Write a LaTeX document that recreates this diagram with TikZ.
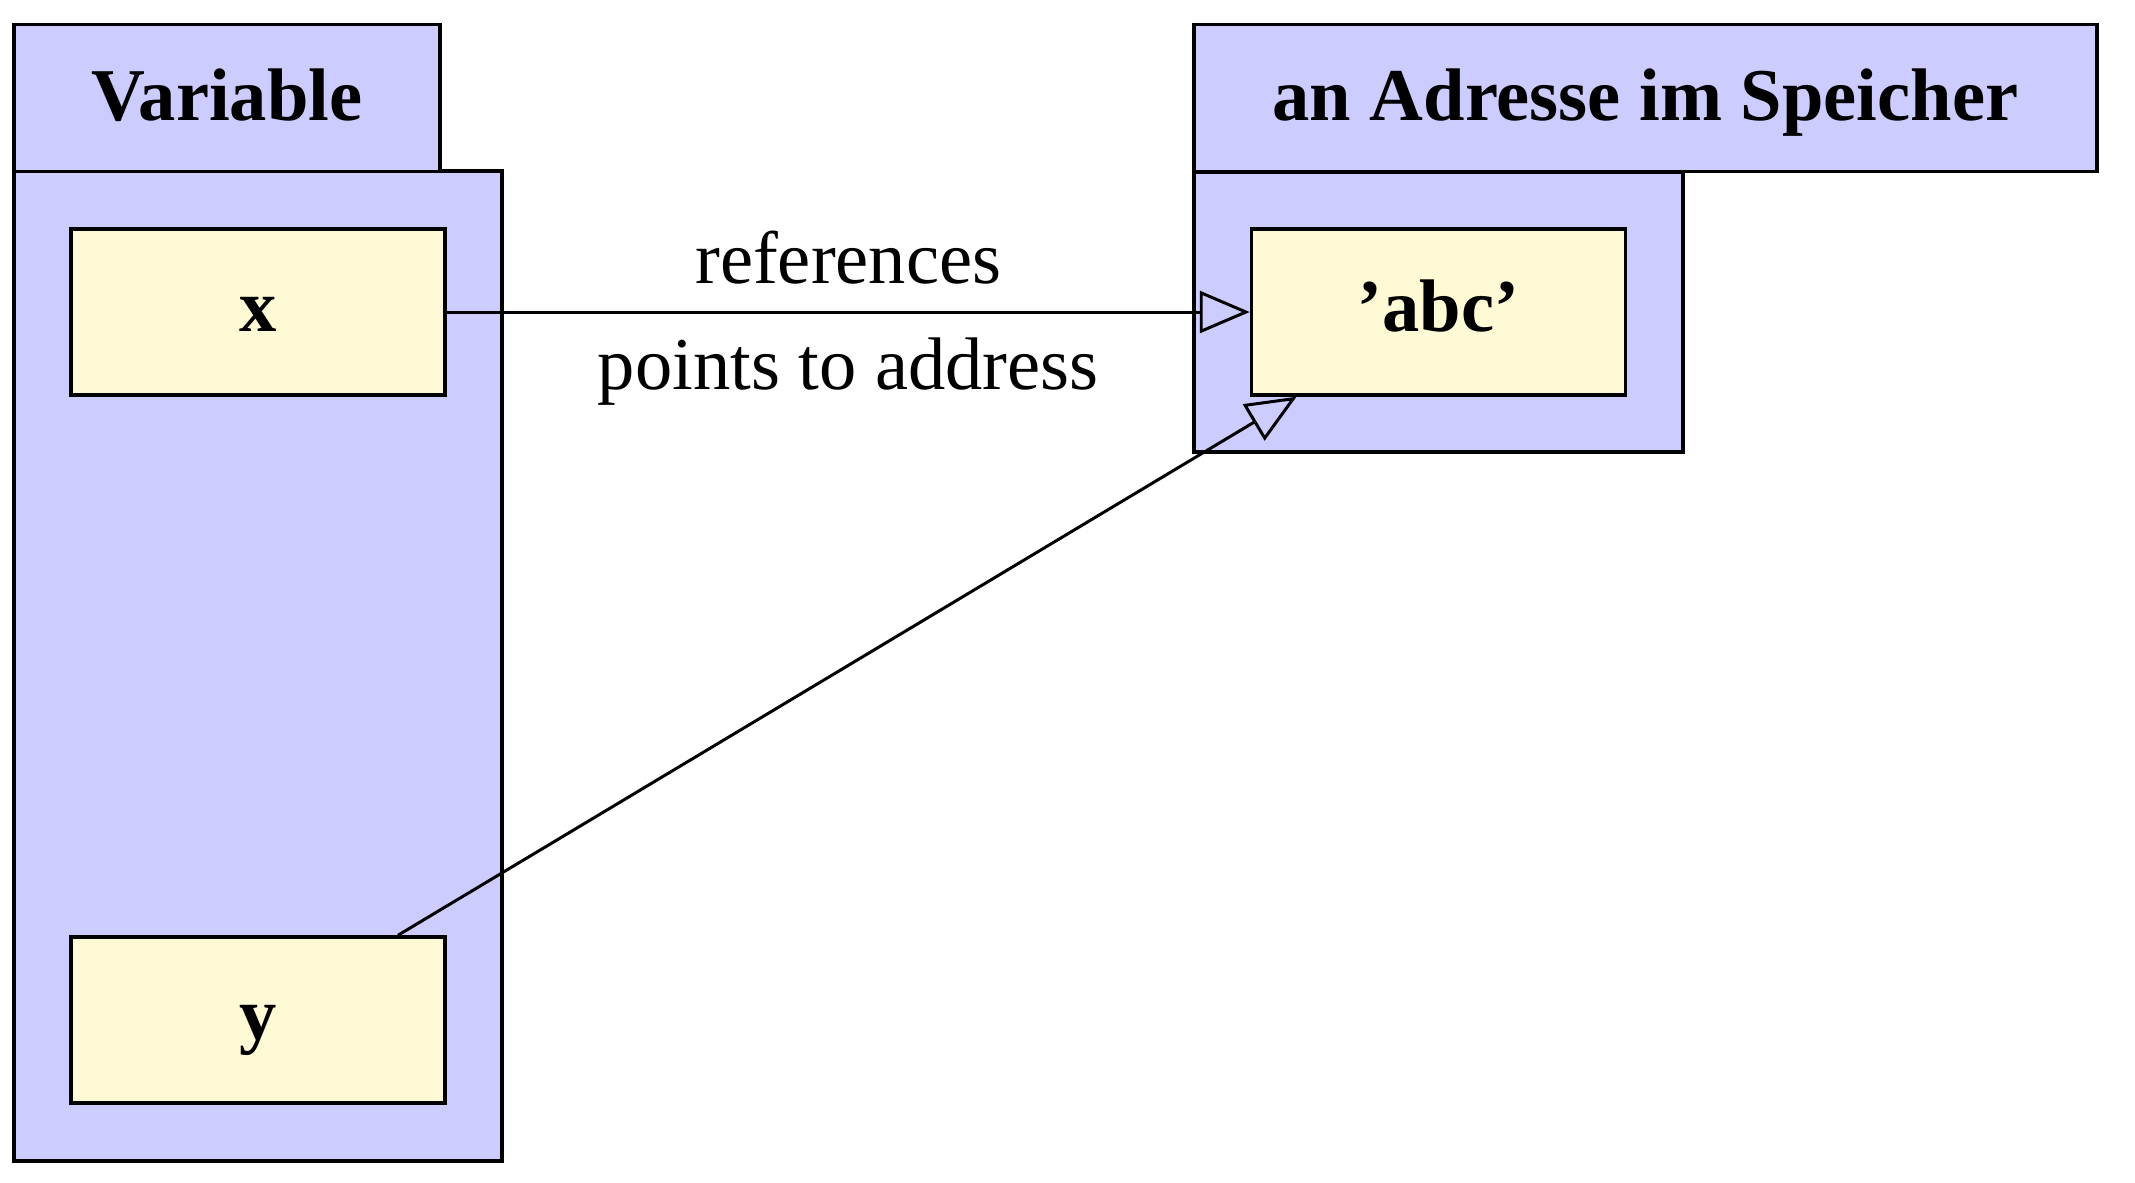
\documentclass[tikz,border=0pt]{standalone}
\usepackage{fontspec}
\setmainfont{Liberation Serif}
\usetikzlibrary{arrows.meta,positioning,calc}
\definecolor{memblue}{RGB}{204,204,255}
\definecolor{cellyellow}{RGB}{255,250,214}

\begin{document}
\begin{tikzpicture}[every node/.style={font=\fontsize{21.2}{25}\selectfont},
 tab/.style={draw=black,fill=memblue,line width=1pt,minimum height=14.7mm,text height=4.4mm,text depth=0mm,font=\fontsize{21.2}{25}\selectfont\bfseries},
 area/.style={draw=black,fill=memblue,line width=1pt},
 cell/.style={draw=black,fill=cellyellow,line width=1pt,minimum width=37.4mm,minimum height=16.6mm,text height=3.8mm,text depth=0mm,font=\fontsize{21.2}{25}\selectfont\bfseries},
 refarrow/.style={-{Triangle[open,length=5mm,width=4.2mm]},line width=0.85pt}]
\useasboundingbox (0,0) rectangle (21.35,-11.83);
\node[area,minimum width=48.8mm,minimum height=99mm](varbody)at(2.58,-6.66){};
\node[tab,minimum width=42.6mm](vartab)at(2.27,-0.98){Variable};
\node[area,minimum width=48.9mm,minimum height=28mm](addrbody)at(14.385,-3.12){};
\node[tab,minimum width=90.3mm](addrtab)at(16.455,-0.98){an Adresse im Speicher};
\node[cell](x)at(2.58,-3.12){x};
\node[cell](y)at(2.58,-10.2){y};
\node[cell](abc)at(14.385,-3.12){'abc'};
\draw[refarrow](x)--node[above,yshift=1.5mm]{references}
 node[below,yshift=-1.3mm]{points to address}(abc);
\draw[refarrow]([xshift=14mm]y.north)--([xshift=-14.2mm]abc.south);
\end{tikzpicture}
\end{document}
